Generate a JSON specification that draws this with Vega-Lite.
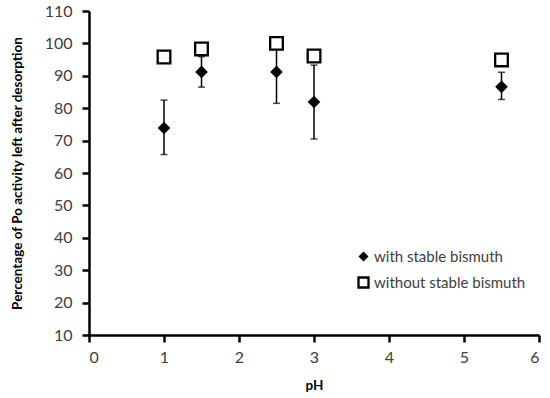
{
  "$schema": "https://vega.github.io/schema/vega-lite/v6.json",
  "width": 450,
  "height": 324,
  "autosize": "none",
  "padding": {"left": 89, "top": 11, "right": 11, "bottom": 63},
  "background": "white",
  "config": {
    "view": {"stroke": null},
    "font": "Lato",
    "axis": {
      "grid": false,
      "domainColor": "black",
      "domainWidth": 2.5,
      "tickColor": "black",
      "tickWidth": 2.5,
      "tickSize": 7,
      "labelFont": "Lato",
      "labelFontSize": 16,
      "labelColor": "#404040",
      "titleFont": "Lato",
      "titleFontWeight": "bold",
      "titleFontSize": 13.5,
      "titleColor": "black"
    }
  },
  "data": {
    "values": [
      {"pH": 1, "series": "with stable bismuth", "value": 73.9, "low": 65.7, "high": 82.5},
      {"pH": 1.5, "series": "with stable bismuth", "value": 91.2, "low": 86.5, "high": 95.9},
      {"pH": 2.5, "series": "with stable bismuth", "value": 91.2, "low": 81.5, "high": 100.9},
      {"pH": 3, "series": "with stable bismuth", "value": 81.9, "low": 70.5, "high": 93.3},
      {"pH": 5.5, "series": "with stable bismuth", "value": 86.6, "low": 82.7, "high": 91.1},
      {"pH": 1, "series": "without stable bismuth", "value": 95.8},
      {"pH": 1.5, "series": "without stable bismuth", "value": 98.3},
      {"pH": 2.5, "series": "without stable bismuth", "value": 100.0},
      {"pH": 3, "series": "without stable bismuth", "value": 96.1},
      {"pH": 5.5, "series": "without stable bismuth", "value": 94.9}
    ]
  },
  "encoding": {
    "x": {
      "field": "pH", "type": "quantitative",
      "scale": {"domain": [0, 6], "nice": false, "zero": false},
      "axis": {"values": [0, 1, 2, 3, 4, 5, 6], "title": "pH", "labelPadding": 7, "titlePadding": 13}
    }
  },
  "layer": [
    {
      "transform": [{"filter": "datum.low != null"}],
      "mark": {"type": "errorbar", "ticks": {"size": 7, "thickness": 1.5, "color": "black"}, "rule": {"strokeWidth": 1.5, "color": "black"}},
      "encoding": {
        "y": {
          "field": "low", "type": "quantitative",
          "scale": {"domain": [10, 110], "nice": false, "zero": false},
          "axis": {"values": [10, 20, 30, 40, 50, 60, 70, 80, 90, 100, 110], "title": "Percentage of Po activity left after desorption", "labelPadding": 10, "titlePadding": 20}
        },
        "y2": {"field": "high"}
      }
    },
    {
      "mark": {"type": "point", "filled": false, "opacity": 1, "size": 160},
      "encoding": {
        "y": {
          "field": "value", "type": "quantitative",
          "scale": {"domain": [10, 110], "nice": false, "zero": false},
          "axis": {"values": [10, 20, 30, 40, 50, 60, 70, 80, 90, 100, 110], "title": "Percentage of Po activity left after desorption", "labelPadding": 10, "titlePadding": 20}
        },
        "shape": {
          "field": "series", "type": "nominal",
          "scale": {"domain": ["with stable bismuth", "without stable bismuth"], "range": ["diamond", "square"]},
          "legend": {
            "title": null, "orient": "none", "legendX": 267, "legendY": 238,
            "labelFont": "Lato", "labelFontSize": 15, "labelColor": "#404040",
            "symbolSize": 100,
            "rowPadding": 7, "labelOffset": 3,
            "encode": {
              "symbols": {
                "update": {
                  "size": {"signal": "datum.value === 'without stable bismuth' ? 100 : 65"}
                }
              }
            }
          }
        },
        "fill": {
          "field": "series", "type": "nominal",
          "scale": {"domain": ["with stable bismuth", "without stable bismuth"], "range": ["black", "white"]}
        },
        "stroke": {
          "field": "series", "type": "nominal",
          "scale": {"domain": ["with stable bismuth", "without stable bismuth"], "range": ["black", "black"]}
        },
        "strokeWidth": {
          "field": "series", "type": "nominal",
          "scale": {"domain": ["with stable bismuth", "without stable bismuth"], "range": [0, 2.3]}
        }
      }
    }
  ]
}
